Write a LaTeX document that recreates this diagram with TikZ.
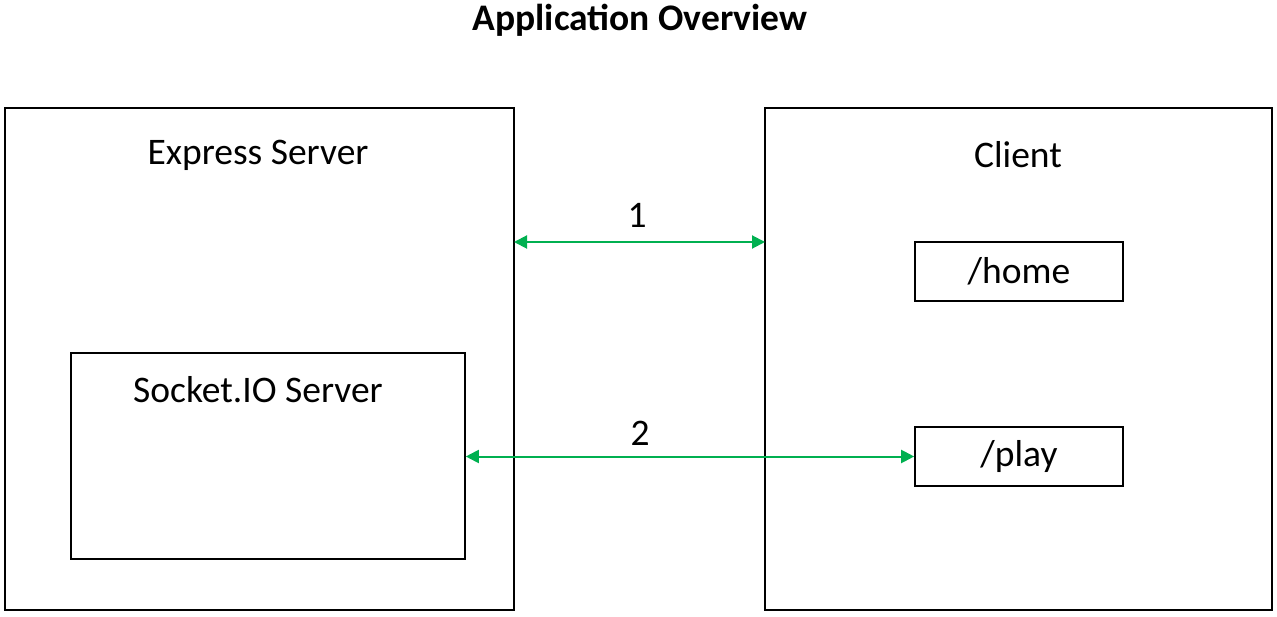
\documentclass[tikz,border=0pt]{standalone}
\usepackage{fontspec}
\setmainfont{Carlito}
\usetikzlibrary{arrows.meta}
\definecolor{arrgreen}{HTML}{00B050}
\begin{document}
\begin{tikzpicture}[x=1pt,y=-1pt,
  box/.style={draw=black,line width=1.6pt},
  lbl/.style={font=\fontsize{37.5}{44}\selectfont,inner sep=0pt,anchor=center},
  conn/.style={draw=arrgreen,line width=2pt,{Triangle[length=13pt,width=13pt]}-{Triangle[length=13pt,width=13pt]}}
]
\useasboundingbox (0,0) rectangle (1277,617);
\node[font=\bfseries\fontsize{37.5}{44}\selectfont,inner sep=0pt] (title) at (640,20) {Application Overview};
\draw[box] (5,108) rectangle (514,610);
\coordinate (srvE) at (514,242);
\draw[box] (765,108) rectangle (1272,610);
\coordinate (cliW) at (765,242);
\node[box,minimum width=394pt,minimum height=206pt,inner sep=0pt] (sock) at (268,456) {};
\node[box,minimum width=208pt,minimum height=59pt,inner sep=0pt,font=\fontsize{37.5}{44}\selectfont] (home) at (1019,271.5) {/home};
\node[box,minimum width=208pt,minimum height=59pt,inner sep=0pt,font=\fontsize{37.5}{44}\selectfont] (play) at (1019,456.5) {/play};
\node[lbl] (es) at (258,155) {Express Server};
\node[lbl] (cl) at (1018,155) {Client};
\node[lbl] (sl) at (258,390) {Socket.IO Server};
\draw[conn] (srvE) -- (cliW);
\node[lbl] (l1) at (637,215) {1};
\draw[conn] (sock.east |- play.west) -- (play.west);
\node[lbl] (l2) at (640,433) {2};
\end{tikzpicture}
\end{document}
